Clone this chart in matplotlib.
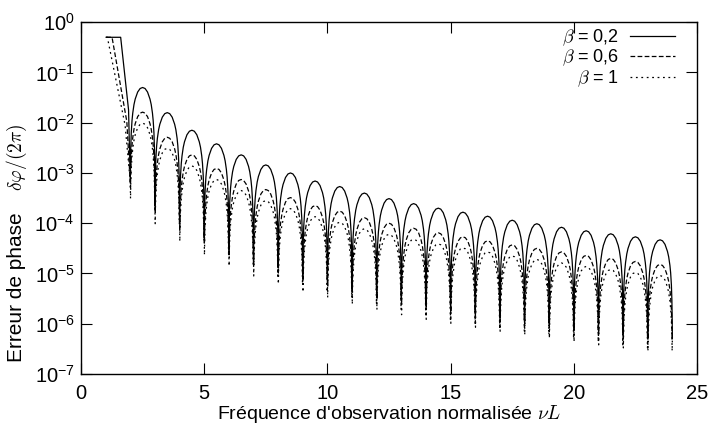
import math
import matplotlib
matplotlib.use('Agg')
import matplotlib.pyplot as plt
from matplotlib.ticker import FixedLocator, FuncFormatter, NullLocator

plt.rcParams['font.family'] = ['Liberation Sans', 'DejaVu Sans']
plt.rcParams['lines.scale_dashes'] = False

# zeros of the error at nu L = 2..24, log10 of the value reached in each dip
dip_x = list(range(2, 25))
dip_log = [-3.18, -3.65, -4.00, -4.28, -4.52, -4.71, -4.88, -5.02, -5.14,
           -5.28, -5.39, -5.49, -5.59, -5.68, -5.76, -5.84, -5.91, -5.98,
           -6.04, -6.11, -6.18, -6.22, -6.27]

# log10 of the maximum of each arch (between two consecutive zeros)
peak_02 = [-1.30, -1.80, -2.15, -2.42, -2.64, -2.84, -3.00, -3.16, -3.27,
           -3.40, -3.51, -3.61, -3.70, -3.78, -3.86, -3.94, -4.01, -4.08,
           -4.15, -4.21, -4.27, -4.33]
peak_06 = [-1.79, -2.29, -2.64, -2.91, -3.13, -3.33, -3.49, -3.65, -3.76,
           -3.89, -4.00, -4.10, -4.19, -4.27, -4.35, -4.43, -4.50, -4.57,
           -4.64, -4.70, -4.76, -4.82]
peak_1 = [-2.01, -2.51, -2.86, -3.13, -3.35, -3.55, -3.71, -3.87, -3.98,
          -4.11, -4.22, -4.32, -4.41, -4.49, -4.57, -4.65, -4.72, -4.79,
          -4.86, -4.92, -4.98, -5.04]

# shape of one arch: position inside the arch, drop below the maximum (decades)
arch_t = [0.01, 0.02, 0.04, 0.07, 0.10, 0.15, 0.20, 0.30, 0.40, 0.50,
          0.60, 0.70, 0.80, 0.85, 0.90, 0.93, 0.96, 0.98, 0.99]
arch_drop = [-1.50, -1.20, -0.90, -0.66, -0.51, -0.34, -0.23, -0.09, -0.02, 0.0,
             -0.02, -0.09, -0.23, -0.34, -0.51, -0.66, -0.90, -1.20, -1.50]

# beginning of the curves (clipped at 0.5)
head_02_x = [1.02, 1.61, 1.93]
head_02_y = [0.5, 0.5, 0.018]
head_06_x = [1.02, 1.26, 1.86]
head_06_y = [0.5, 0.5, 0.0105]
head_1_x = [1.02, 1.07, 1.79]
head_1_y = [0.5, 0.5, 0.0089]

labels = [r'$\beta$ = 0,2', r'$\beta$ = 0,6', r'$\beta$ = 1']


def build(head_x, head_y, peaks):
    xs = list(head_x)
    ys = list(head_y)
    for i, p in enumerate(peaks):
        xs.append(dip_x[i])
        ys.append(10 ** dip_log[i])
        for t, d in zip(arch_t, arch_drop):
            xs.append(dip_x[i] + t)
            ys.append(10 ** (p + d))
    xs.append(dip_x[-1])
    ys.append(10 ** dip_log[-1])
    return xs, ys


fs = 14.5
fig = plt.figure(figsize=(7.08, 4.26), dpi=100)
ax = fig.add_axes([0.1144, 0.122, 0.8701, 0.826])

x, y = build(head_02_x, head_02_y, peak_02)
ax.plot(x, y, color='black', lw=0.9, ls='-', label=labels[0])
x, y = build(head_06_x, head_06_y, peak_06)
ax.plot(x, y, color='black', lw=0.9, ls=(0, (3.4, 1.7)), label=labels[1])
x, y = build(head_1_x, head_1_y, peak_1)
ax.plot(x, y, color='black', lw=0.9, ls=(0, (1.3, 2.6)), label=labels[2])

ax.set_yscale('log')
ax.set_xlim(0, 25)
ax.set_ylim(1e-7, 1)
ax.xaxis.set_major_locator(FixedLocator([0, 5, 10, 15, 20, 25]))
ax.yaxis.set_major_locator(FixedLocator([10.0 ** k for k in range(-7, 1)]))
ax.yaxis.set_minor_locator(NullLocator())
ax.xaxis.set_minor_locator(NullLocator())
ax.yaxis.set_major_formatter(FuncFormatter(
    lambda v, pos: r'$\mathregular{10^{%d}}$' % round(math.log10(v))))
ax.tick_params(which='both', direction='in', top=True, right=True,
               length=8, width=0.8, labelsize=fs)
ax.tick_params(axis='x', pad=7)
ax.tick_params(axis='y', pad=4.5)
for s in ax.spines.values():
    s.set_linewidth(1.0)

ax.set_xlabel(r"Fréquence d'observation normalisée $\nu L$", fontsize=14,
              math_fontfamily='cm', labelpad=0)
ax.text(-0.104, 0.034, 'Erreur de phase', rotation=90, transform=ax.transAxes,
        ha='center', va='bottom', fontsize=15)
ax.text(-0.104, 0.52, r'$\delta\varphi/(2\pi)$', rotation=90,
        transform=ax.transAxes, ha='center', va='bottom', fontsize=14,
        math_fontfamily='cm')

leg = ax.legend(loc='upper right', bbox_to_anchor=(0.964, 0.985), frameon=False,
                markerfirst=False, handlelength=2.5, handletextpad=0.6,
                labelspacing=0.0, borderaxespad=0, borderpad=0,
                prop={'size': 13, 'math_fontfamily': 'cm'})

fig.savefig('out.png', dpi=100)
